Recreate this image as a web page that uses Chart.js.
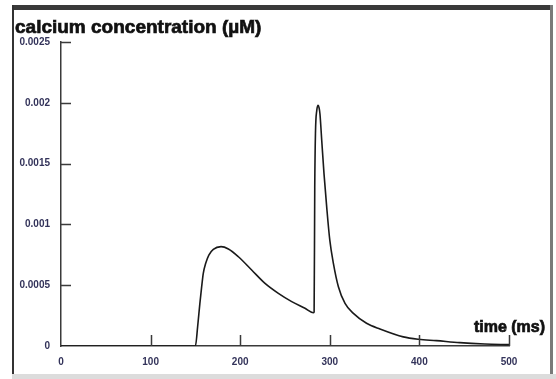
<!DOCTYPE html>
<html>
<head>
<meta charset="utf-8">
<script src="https://cdn.jsdelivr.net/npm/chart.js@4/dist/chart.umd.min.js"></script>
<style>
  html, body { margin: 0; padding: 0; background: #fff; }
  body { width: 556px; height: 379px; position: relative; overflow: hidden; }
  .frame { position: absolute; }
  #chart { position: absolute; left: 0; top: 0; }
</style>
</head>
<body>
<div class="frame" style="left:12px;top:5px;width:541px;height:5px;background:#3a3a3a"></div>
<div class="frame" style="left:12px;top:5px;width:2px;height:370px;background:#333"></div>
<div class="frame" style="left:550px;top:5px;width:3px;height:370px;background:#7a7a7a"></div>
<div class="frame" style="left:12px;top:374px;width:544px;height:5px;background:#dcdcdc"></div>
<canvas id="chart" width="556" height="379"></canvas>
<script>
// Values
const timeMs = [0, 150, 152.5, 155, 157, 158.8, 161.5, 165, 170, 178.6, 186.8, 198, 212.8, 227.7, 242.6, 257.5, 272.3, 281.6,
  282.5, 283.2, 284, 285.5, 287, 288, 289, 291, 293.5, 296.5, 300, 304, 309.5, 317, 326, 341, 356, 382, 399, 419, 445, 473, 500];
const calcium = [0, 0, 0.000159, 0.000351, 0.000488, 0.000598, 0.00068, 0.000748, 0.000795, 0.000817, 0.000798, 0.000734, 0.000625, 0.000515, 0.000433, 0.000365, 0.00031, 0.000274,
  0.00028, 0.0013, 0.00175, 0.00194, 0.00198, 0.00196, 0.00191, 0.00169, 0.00142, 0.001146, 0.00087, 0.00068, 0.00049, 0.00035, 0.00027, 0.000187, 0.00014, 0.000075, 0.000055, 0.000044, 0.000028, 0.000017, 0.000011];

const xTickValues = [0, 100, 200, 300, 400, 500];
const xTickLabels = ['0', '100', '200', '300', '400', '500'];
const yTickValues = [0, 0.0005, 0.001, 0.0015, 0.002, 0.0025];
const yTickLabels = ['0', '0.0005', '0.001', '0.0015', '0.002', '0.0025'];

const yTitle = 'calcium concentration (µM)';
const xTitle = 'time (ms)';

const axisColor = '#3a3a3a';
const labelColor = '#33335a';
const labelFont = { family: 'Liberation Sans, Arial, sans-serif', size: 10, weight: 'bold' };

// inward tick marks + the two axis titles
const decorPlugin = {
  id: 'decor',
  afterDatasetsDraw(chart) {
    const { ctx, chartArea, scales } = chart;
    ctx.save();
    ctx.strokeStyle = axisColor;
    ctx.lineWidth = 1.5;
    ctx.beginPath();
    xTickValues.forEach(v => {
      if (v === 0) return;
      const px = Math.round(scales.x.getPixelForValue(v)) + 0.5;
      ctx.moveTo(px, chartArea.bottom);
      ctx.lineTo(px, chartArea.bottom - 11);
    });
    yTickValues.forEach(v => {
      if (v === 0) return;
      const py = Math.round(scales.y.getPixelForValue(v)) + 0.5;
      ctx.moveTo(chartArea.left, py);
      ctx.lineTo(chartArea.left + 10, py);
    });
    ctx.stroke();

    ctx.fillStyle = '#111';
    ctx.strokeStyle = '#111';
    ctx.lineWidth = 0.7;
    ctx.textBaseline = 'alphabetic';
    ctx.textAlign = 'left';
    ctx.font = 'bold 19px "Liberation Sans", Arial, sans-serif';
    ctx.fillText(yTitle, 15, 33);
    ctx.strokeText(yTitle, 15, 33);
    ctx.textAlign = 'right';
    ctx.font = 'bold 16px "Liberation Sans", Arial, sans-serif';
    ctx.fillText(xTitle, 545, 332);
    ctx.strokeText(xTitle, 545, 332);
    ctx.restore();
  }
};

new Chart(document.getElementById('chart'), {
  type: 'line',
  data: {
    datasets: [{
      data: timeMs.map((t, i) => ({ x: t, y: calcium[i] })),
      borderColor: '#1a1a1a',
      borderWidth: 1.6,
      pointRadius: 0,
      fill: false,
      cubicInterpolationMode: 'monotone'
    }]
  },
  options: {
    responsive: false,
    animation: false,
    devicePixelRatio: 1,
    layout: { padding: { top: 42, right: 47, left: 0, bottom: 0 } },
    plugins: { legend: { display: false }, tooltip: { enabled: false } },
    scales: {
      x: {
        type: 'linear',
        min: 0,
        max: 500,
        afterBuildTicks: scale => { scale.ticks = xTickValues.map(v => ({ value: v })); },
        afterFit: scale => { scale.height = 33; },
        grid: { display: false, drawTicks: false },
        border: { display: true, color: axisColor, width: 1.5 },
        ticks: {
          padding: 10,
          color: labelColor,
          font: labelFont,
          maxRotation: 0,
          callback: (v, i) => xTickLabels[i]
        }
      },
      y: {
        min: 0,
        max: 0.0025,
        afterBuildTicks: scale => { scale.ticks = yTickValues.map(v => ({ value: v })); },
        afterFit: scale => { scale.width = 61; },
        grid: { display: false, drawTicks: false },
        border: { display: true, color: axisColor, width: 1.5 },
        ticks: {
          padding: 11,
          color: labelColor,
          font: labelFont,
          callback: (v, i) => yTickLabels[i]
        }
      }
    }
  },
  plugins: [decorPlugin]
});
</script>
</body>
</html>
